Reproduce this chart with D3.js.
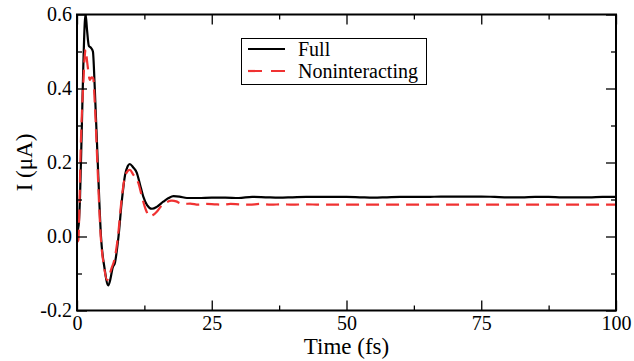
<!DOCTYPE html>
<html>
<head>
<meta charset="utf-8">
<script src="https://cdn.jsdelivr.net/npm/d3@7/dist/d3.min.js"></script>
<style>
  html, body { margin: 0; padding: 0; background: #fff; }
  svg { display: block; }
  svg text { font-family: "Liberation Serif", "Times New Roman", Times, "DejaVu Serif", serif !important; fill: #000; }
</style>
</head>
<body>
<svg id="chart" width="634" height="361"></svg>
<script>
// ---- data ----
const fullTime = [0,0.3,0.56,0.87,1.17,1.45,1.6,1.85,2.2,2.6,2.95,3.3,3.85,4.45,5.1,5.8,6.2,6.6,7.05,7.7,8.3,8.9,9.4,9.8,10.4,11.1,11.7,12.3,13.0,13.9,14.8,16.0,17.0,17.9,19.0,20.4,22.5,25,27.5,30,32.5,35,37.5,40,42.5,45,47.5,50,52.5,55,57.5,60,62.5,65,67.5,70,72.5,75,77.5,80,82.5,85,87.5,90,92.5,95,97.5,100];
const fullCurrent = [0.01,0.03,0.107,0.28,0.46,0.58,0.6,0.56,0.515,0.51,0.5,0.4,0.2,0.0,-0.085,-0.132,-0.115,-0.085,-0.07,0.0,0.094,0.165,0.19,0.196,0.187,0.172,0.14,0.108,0.085,0.075,0.08,0.094,0.104,0.109,0.108,0.104,0.104,0.105,0.105,0.104,0.107,0.106,0.105,0.106,0.107,0.107,0.107,0.107,0.106,0.105,0.106,0.107,0.107,0.107,0.108,0.108,0.108,0.108,0.107,0.106,0.106,0.107,0.107,0.106,0.106,0.106,0.107,0.107];

const nonintTime = [0,0.25,0.45,0.68,0.9,1.17,1.45,1.6,1.9,2.4,2.7,3.0,3.3,3.8,4.4,5.0,5.6,6.0,6.4,6.9,7.6,8.2,8.8,9.3,9.8,10.4,11.4,12.0,12.7,13.5,14.1,14.8,15.6,16.3,17.6,18.4,19.1,20,21,22.5,24,25.5,27,28.5,30,32,34,36,38,40,42.5,45,50,55,60,65,70,75,80,85,90,95,100];
const nonintCurrent = [-0.015,-0.01,0.08,0.234,0.33,0.414,0.49,0.505,0.47,0.423,0.43,0.428,0.36,0.19,0.0,-0.08,-0.118,-0.105,-0.086,-0.065,0.0,0.09,0.155,0.175,0.18,0.168,0.144,0.11,0.075,0.055,0.058,0.067,0.082,0.09,0.097,0.095,0.09,0.088,0.089,0.086,0.088,0.087,0.086,0.088,0.087,0.086,0.088,0.086,0.087,0.086,0.087,0.086,0.086,0.086,0.086,0.086,0.086,0.086,0.086,0.086,0.086,0.086,0.086];

const xMajorTicks = [0,25,50,75,100];
const xMajorLabels = ["0","25","50","75","100"];
const xMinorTicks = [12.5,37.5,62.5,87.5];
const yMajorTicks = [-0.2,0,0.2,0.4,0.6];
const yMajorLabels = ["-0.2","0.0","0.2","0.4","0.6"];
const yMinorTicks = [-0.1,0.1,0.3,0.5];
const seriesNames = ["Full","Noninteracting"];

// ---- layout ----
const FONT = '"Liberation Serif", "Times New Roman", Times, "DejaVu Serif", serif';
const svg = d3.select("#chart");
const L = 77, R = 616, T = 14.5, B = 310.5;
const x = d3.scaleLinear().domain([0,100]).range([L,R]);
const y = d3.scaleLinear().domain([-0.2,0.6]).range([B,T]);

svg.append("clipPath").attr("id","clip").append("rect")
  .attr("x",L).attr("y",T).attr("width",R-L).attr("height",B-T);

const line = d3.line().x(d=>x(d[0])).y(d=>y(d[1])).curve(d3.curveMonotoneX);
const fullData = fullTime.map((t,i)=>[t,fullCurrent[i]]);
const nonData = nonintTime.map((t,i)=>[t,nonintCurrent[i]]);

const g = svg.append("g").attr("clip-path","url(#clip)");
g.append("path").datum(fullData).attr("d",line)
  .attr("fill","none").attr("stroke","#000").attr("stroke-width",2.2).attr("stroke-linejoin","round");
g.append("path").datum(nonData).attr("d",line)
  .attr("fill","none").attr("stroke","#f03232").attr("stroke-width",2.2)
  .attr("stroke-dasharray","13,7");

// axes
function styleAxis(sel){
  sel.attr("font-family",FONT);
  sel.select(".domain").remove();
  sel.selectAll("line").attr("stroke","#000").attr("stroke-width",1.3);
}
const fmt = (ticks, labels) => v => labels[ticks.indexOf(v)];

svg.append("g").attr("transform",`translate(0,${B})`)
  .call(d3.axisBottom(x).tickValues(xMajorTicks).tickFormat(fmt(xMajorTicks,xMajorLabels)).tickSize(-10).tickPadding(5))
  .call(styleAxis).selectAll("text").attr("font-size","20px");
svg.append("g").attr("transform",`translate(0,${B})`)
  .call(d3.axisBottom(x).tickValues(xMinorTicks).tickFormat("").tickSize(-5)).call(styleAxis);
svg.append("g").attr("transform",`translate(0,${T})`)
  .call(d3.axisTop(x).tickValues(xMajorTicks).tickFormat("").tickSize(-10)).call(styleAxis);
svg.append("g").attr("transform",`translate(0,${T})`)
  .call(d3.axisTop(x).tickValues(xMinorTicks).tickFormat("").tickSize(-5)).call(styleAxis);

svg.append("g").attr("transform",`translate(${L},0)`)
  .call(d3.axisLeft(y).tickValues(yMajorTicks).tickFormat(fmt(yMajorTicks,yMajorLabels)).tickSize(-10).tickPadding(5))
  .call(styleAxis).selectAll("text").attr("font-size","20px");
svg.append("g").attr("transform",`translate(${L},0)`)
  .call(d3.axisLeft(y).tickValues(yMinorTicks).tickFormat("").tickSize(-5)).call(styleAxis);
svg.append("g").attr("transform",`translate(${R},0)`)
  .call(d3.axisRight(y).tickValues(yMajorTicks).tickFormat("").tickSize(-10)).call(styleAxis);
svg.append("g").attr("transform",`translate(${R},0)`)
  .call(d3.axisRight(y).tickValues(yMinorTicks).tickFormat("").tickSize(-5)).call(styleAxis);

svg.append("rect").attr("x",L).attr("y",T).attr("width",R-L).attr("height",B-T)
  .attr("fill","none").attr("stroke","#000").attr("stroke-width",2);

// axis titles
svg.append("text").attr("x",(L+R)/2).attr("y",354).attr("text-anchor","middle")
  .attr("font-family",FONT).attr("font-size","23px").text("Time (fs)");
svg.append("text").attr("transform",`translate(32,${(T+B)/2}) rotate(-90)`).attr("text-anchor","middle")
  .attr("font-family",FONT).attr("font-size","23px").text("I (μA)");

// legend
const lg = svg.append("g").attr("font-family",FONT);
lg.append("rect").attr("x",241.5).attr("y",38.5).attr("width",185).attr("height",46)
  .attr("fill","#fff").attr("stroke","#000").attr("stroke-width",1);
lg.append("line").attr("x1",248).attr("x2",285).attr("y1",49).attr("y2",49)
  .attr("stroke","#000").attr("stroke-width",2.2);
lg.append("line").attr("x1",248).attr("x2",285).attr("y1",71).attr("y2",71)
  .attr("stroke","#f03232").attr("stroke-width",2.2).attr("stroke-dasharray","14,9");
lg.append("text").attr("x",298).attr("y",56).attr("font-size","20px").text(seriesNames[0]);
lg.append("text").attr("x",298).attr("y",78).attr("font-size","20px").text(seriesNames[1]);
</script>
</body>
</html>
